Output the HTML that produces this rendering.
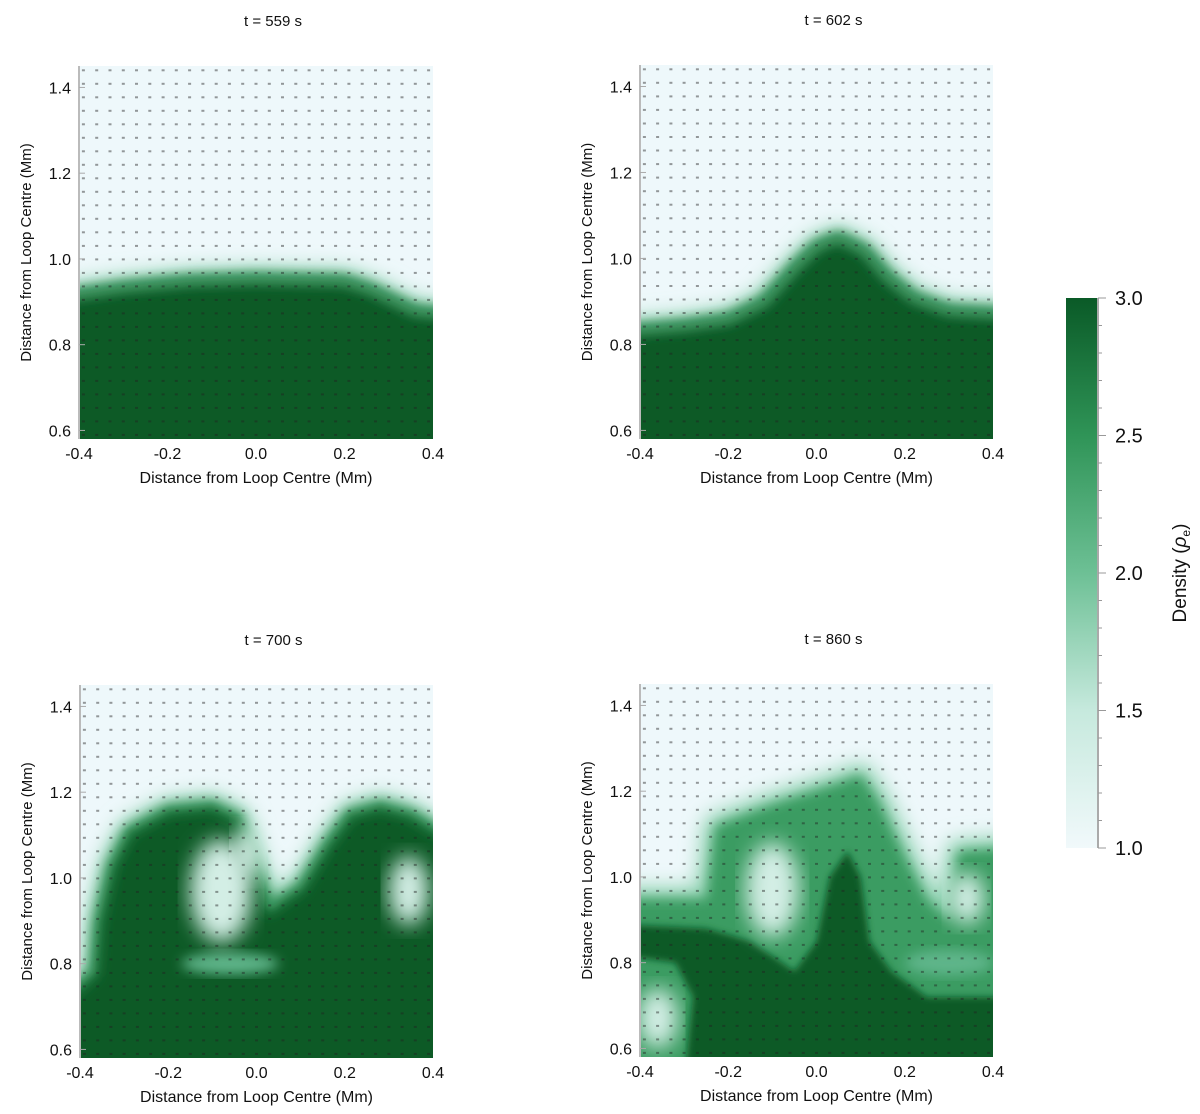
<!DOCTYPE html>
<html><head><meta charset="utf-8">
<style>
html,body{margin:0;padding:0;background:#fff;}
svg{display:block;font-family:"Liberation Sans",Arial,sans-serif;}
</style></head>
<body>
<svg id="fig" width="1200" height="1114" viewBox="0 0 1200 1114" xmlns="http://www.w3.org/2000/svg">
<defs>
<filter id="b3" x="-20%" y="-20%" width="140%" height="140%"><feGaussianBlur stdDeviation="3.5"/></filter>
<filter id="b6" x="-20%" y="-20%" width="140%" height="140%"><feGaussianBlur stdDeviation="6"/></filter>
<filter id="b9" x="-20%" y="-20%" width="140%" height="140%"><feGaussianBlur stdDeviation="10"/></filter>
<linearGradient id="cbar" x1="0" y1="1" x2="0" y2="0">
<stop offset="0" stop-color="#f1f9fb"/>
<stop offset="0.25" stop-color="#c6e9dd"/>
<stop offset="0.5" stop-color="#6dc095"/>
<stop offset="0.75" stop-color="#2f9457"/>
<stop offset="1" stop-color="#0a5a27"/>
</linearGradient>
</defs>
</svg>
<script>
// ---- data (Mm units) ----
const panelTitles = ["t = 559 s", "t = 602 s", "t = 700 s", "t = 860 s"];
const xTicks = [-0.4, -0.2, 0.0, 0.2, 0.4];
const yTicks = [0.6, 0.8, 1.0, 1.2, 1.4];
const cbarTicks = [1.0, 1.5, 2.0, 2.5, 3.0];
// dense-plasma boundary (x, y) per panel
const dense559X = [-0.4,-0.4,-0.3,-0.15,0.0,0.2,0.26,0.32,0.36,0.4,0.4];
const dense559Y = [0.58,0.91,0.935,0.95,0.955,0.95,0.93,0.9,0.88,0.87,0.58];
const dense602X = [-0.4,-0.4,-0.3,-0.2,-0.12,-0.05,0.0,0.05,0.11,0.16,0.22,0.3,0.4,0.4];
const dense602Y = [0.58,0.83,0.845,0.86,0.9,0.98,1.03,1.05,1.02,0.96,0.91,0.88,0.87,0.58];
const dense700X = [-0.4,-0.4,-0.37,-0.36,-0.33,-0.29,-0.2,-0.1,-0.04,-0.01,0.03,0.1,0.16,0.21,0.28,0.35,0.4,0.4];
const dense700Y = [0.58,0.70,0.78,0.9,1.03,1.11,1.16,1.17,1.14,1.05,0.93,0.98,1.08,1.15,1.17,1.15,1.08,0.58];
const mid860X = [-0.4,-0.4,-0.25,-0.23,-0.1,0.05,0.1,0.14,0.2,0.25,0.3,0.32,0.4,0.4];
const mid860Y = [0.58,0.95,0.95,1.12,1.17,1.22,1.24,1.18,1.05,0.95,0.9,1.06,1.07,0.58];
const dense860X = [-0.4,-0.4,-0.25,-0.15,-0.05,0.0,0.03,0.07,0.1,0.12,0.17,0.25,0.4,0.4,-0.3,-0.28,-0.32,-0.4];
const dense860Y = [0.82,0.89,0.88,0.85,0.78,0.85,1.0,1.06,1.0,0.85,0.78,0.72,0.72,0.58,0.58,0.72,0.8,0.82];
// light (low-density) pockets: cx, cy, rx, ry
const holes700 = [[-0.08,0.97,0.07,0.12],[-0.02,1.06,0.03,0.06],[0.345,0.97,0.045,0.08]];
const mixed700 = [[-0.06,0.8,0.11,0.025]];
const holes860 = [[-0.1,0.97,0.06,0.11],[0.34,0.95,0.04,0.06],[-0.36,0.67,0.045,0.07]];
const mixed860 = [[0.3,0.8,0.1,0.03]];
const panelMid = [dense559X, dense602X, dense700X, mid860X];
const panelMidY = [dense559Y, dense602Y, dense700Y, mid860Y];
const panelDark = [dense559X, dense602X, dense700X, dense860X];
const panelDarkY = [dense559Y, dense602Y, dense700Y, dense860Y];
const panelHoles = [[], [], holes700, holes860];
const panelMixed = [[], [], mixed700, mixed860];

const NS = "http://www.w3.org/2000/svg";
const svg = document.getElementById('fig');
function mk(tag, attrs, parent){const e=document.createElementNS(NS,tag);for(const k in attrs)e.setAttribute(k,attrs[k]);(parent||svg).appendChild(e);return e;}

const boxes = [
  {x0:79,x1:433,y0:66,y1:439},
  {x0:640,x1:993,y0:65,y1:439},
  {x0:80,x1:433,y0:685,y1:1058},
  {x0:640,x1:993,y0:684,y1:1057}
];
const XMIN=-0.4,XMAX=0.4,YMIN=0.58,YMAX=1.45;
// push boundary vertices lying on the frame outward so blur doesn't fade at edges
const ext=(v,lo,hi)=> v<=lo+1e-9 ? lo-0.06 : (v>=hi-1e-9 ? hi+0.06 : v);

boxes.forEach((b,i)=>{
  const sx=v=>b.x0+(v-XMIN)/(XMAX-XMIN)*(b.x1-b.x0);
  const sy=v=>b.y1-(v-YMIN)/(YMAX-YMIN)*(b.y1-b.y0);
  const g=mk('g',{});
  
  
  const cp=mk('clipPath',{id:'cp'+i},g);
  mk('rect',{x:b.x0,y:b.y0,width:b.x1-b.x0,height:b.y1-b.y0},cp);
  const plot=mk('g',{'clip-path':'url(#cp'+i+')'},g);
  
  
  mk('rect',{x:b.x0,y:b.y0,width:b.x1-b.x0,height:b.y1-b.y0,fill:'#eef8fb'},plot);
  const pts=(xs,ys)=>xs.map((x,k)=>sx(ext(x,XMIN,XMAX)).toFixed(1)+','+sy(ys[k]<=YMIN+1e-9?YMIN-0.06:ys[k]).toFixed(1)).join(' ');
  const halo=mk('polygon',{points:pts(panelMid[i],panelMidY[i]),fill:'#8fd2b0',stroke:'#8fd2b0','stroke-width':22,'stroke-linejoin':'round',filter:'url(#b9)'},plot);
  
  
  if(i===3){mk('polygon',{points:pts(panelMid[i],panelMidY[i]),fill:'#3a9c62',filter:'url(#b6)'},plot);}
  const dark=mk('polygon',{points:pts(panelDark[i],panelDarkY[i]),fill:'#0b5a27',filter:(i<2?'url(#b6)':'url(#b3)')},plot);
  
  
  if(i<3){mk('polygon',{points:pts(panelMid[i],panelMidY[i]),fill:'none',stroke:'#2a8a50','stroke-width':10,filter:'url(#b6)'},plot);}
  panelMixed[i].forEach(h=>{
    const e=mk('ellipse',{cx:sx(h[0]),cy:sy(h[1]),rx:h[2]/(XMAX-XMIN)*(b.x1-b.x0),ry:h[3]/(YMAX-YMIN)*(b.y1-b.y0),fill:'#5fb58a',filter:'url(#b6)'},plot);
    
    
  });
  panelHoles[i].forEach(h=>{
    const e=mk('ellipse',{cx:sx(h[0]),cy:sy(h[1]),rx:h[2]/(XMAX-XMIN)*(b.x1-b.x0),ry:h[3]/(YMAX-YMIN)*(b.y1-b.y0),fill:'#d3eee5',filter:'url(#b9)'},plot);
    
    
  });
  const vg=mk('g',{fill:'#222','fill-opacity':0.45},plot);
  
  
  for(let c=0;c<27;c++){for(let r=0;r<28;r++){
    const xv=-0.39+c*0.03, yv=1.44-r*0.0315;
    mk('rect',{x:(sx(xv)-1.5).toFixed(1),y:(sy(yv)-1).toFixed(1),width:3,height:2},vg);
  }}
  const ax=mk('line',{x1:b.x0,y1:b.y0,x2:b.x0,y2:b.y1,stroke:'#bbb','stroke-width':2},g);
  
  
  yTicks.forEach(t=>{
    mk('line',{x1:b.x0,x2:b.x0+6,y1:sy(t),y2:sy(t),stroke:'#aaa','stroke-width':1},g);
    const tx=mk('text',{x:b.x0-8,y:sy(t)+6,'text-anchor':'end','font-size':16,fill:'#111'},g);
    tx.textContent=t.toFixed(1);
    
    
  });
  xTicks.forEach(t=>{
    const tx=mk('text',{x:sx(t),y:b.y1+20,'text-anchor':'middle','font-size':16,fill:'#111'},g);
    tx.textContent=t.toFixed(1);
    
    
  });
  const xt=mk('text',{x:(b.x0+b.x1)/2,y:b.y1+44,'text-anchor':'middle','font-size':16,fill:'#111'},g);
  xt.textContent='Distance from Loop Centre (Mm)';
  
  
  const cy=(b.y0+b.y1)/2;
  const yt=mk('text',{x:b.x0-53,y:cy+5,'text-anchor':'middle','font-size':15,fill:'#111',transform:'rotate(-90 '+(b.x0-53)+' '+cy+')'},g);
  yt.textContent='Distance from Loop Centre (Mm)';
  
  
  const tt=mk('text',{x:(b.x0+b.x1)/2+17,y:b.y0-40,'text-anchor':'middle','font-size':15,fill:'#111'},g);
  tt.textContent=panelTitles[i];
  
  
});

// colorbar
const CB={x0:1066,x1:1098,y0:298,y1:848,vmin:1.0,vmax:3.0};
const cy2=v=>CB.y1-(v-CB.vmin)/(CB.vmax-CB.vmin)*(CB.y1-CB.y0);
const cb=mk('g',{});


mk('rect',{x:CB.x0,y:CB.y0,width:CB.x1-CB.x0,height:CB.y1-CB.y0,fill:'url(#cbar)'},cb);
mk('line',{x1:CB.x1,x2:CB.x1,y1:CB.y0,y2:CB.y1,stroke:'#aaa','stroke-width':2},cb);
for(let k=0;k<=20;k++){const v=CB.vmin+k*0.1;mk('line',{x1:CB.x1,x2:CB.x1+(k%5===0?8:4),y1:cy2(v),y2:cy2(v),stroke:'#999','stroke-width':1},cb);}
cbarTicks.forEach(t=>{
  const tx=mk('text',{x:1115,y:cy2(t)+7,'font-size':20,fill:'#111'},cb);
  tx.textContent=t.toFixed(1);
  
  
});
const cl=mk('text',{x:1186,y:573,'text-anchor':'middle','font-size':19,fill:'#111',transform:'rotate(-90 1186 573)'},cb);


cl.innerHTML='Density (<tspan font-style="italic">ρ</tspan><tspan font-size="12" dy="4">e</tspan><tspan dy="-4">)</tspan>';
</script>
</body></html>
